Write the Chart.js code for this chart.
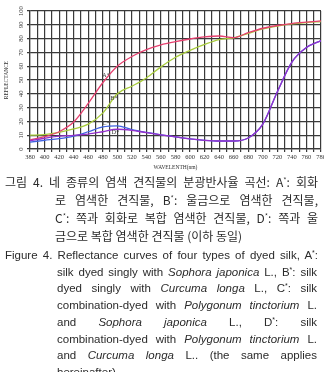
<!DOCTYPE html>
<html>
<head>
<meta charset="utf-8">
<script src="https://cdn.jsdelivr.net/npm/chart.js@4.4.0/dist/chart.umd.min.js"></script>
<style>
  html, body { margin: 0; padding: 0; background: #fff; }
  body { width: 324px; height: 372px; position: relative; overflow: hidden; }
  #wrap { position: absolute; left: 0; top: 0; width: 324px; height: 175px; }
  .ln { position: absolute; height: 16px; line-height: 16px; color: #2b2b2b;
        text-align: justify; text-align-last: justify; }
  .ln.last { text-align: left; text-align-last: left; }
  .ko { font-family: "Noto Sans CJK KR", sans-serif; font-size: 12px; }
  .en { font-family: "Liberation Sans", Arial, sans-serif; font-size: 11.5px; }
  sup { font-size: 0.6em; vertical-align: 0.55em; line-height: 0; }
</style>
</head>
<body>
<div id="wrap"><canvas id="myChart" width="324" height="175"></canvas></div>

<div class="ln ko" style="left:5px;width:313px;top:174px">그림 4. 네 종류의 염색 견직물의 분광반사율 곡선: A<sup>*</sup>: 회화</div>
<div class="ln ko" style="left:55px;width:263px;top:192px">로 염색한 견직물, B<sup>*</sup>: 울금으로 염색한 견직물,</div>
<div class="ln ko" style="left:55px;width:263px;top:210px">C<sup>*</sup>: 쪽과 회화로 복합 염색한 견직물, D<sup>*</sup>: 쪽과 울</div>
<div class="ln ko last" style="left:55px;width:263px;top:228px">금으로 복합 염색한 견직물 (이하 동일)</div>

<div class="ln en" style="left:5px;width:313px;top:247px">Figure 4. Reflectance curves of four types of dyed silk, A<sup>*</sup>:</div>
<div class="ln en" style="left:57px;width:260px;top:263.7px">silk dyed singly with <i>Sophora japonica</i> L., B<sup>*</sup>: silk</div>
<div class="ln en" style="left:57px;width:260px;top:280.4px">dyed singly with <i>Curcuma longa</i> L., C<sup>*</sup>: silk</div>
<div class="ln en" style="left:57px;width:260px;top:297px">combination-dyed with <i>Polygonum tinctorium</i> L.</div>
<div class="ln en" style="left:57px;width:260px;top:313.8px">and <i>Sophora japonica</i> L., D<sup>*</sup>: silk</div>
<div class="ln en" style="left:57px;width:260px;top:330.5px">combination-dyed with <i>Polygonum tinctorium</i> L.</div>
<div class="ln en" style="left:57px;width:260px;top:347.2px">and <i>Curcuma longa</i> L.. (the same applies</div>
<div class="ln en last" style="left:57px;width:260px;top:364px">hereinafter)</div>

<script>
// wavelength (nm) and reflectance (%)
var wavelengths = [380, 400, 420, 440, 460, 480, 500, 520, 540, 560, 580, 600, 620, 640, 660, 680, 700, 720, 740, 760, 780];
var seriesA = [6.5, 9, 12.5, 19.5, 33, 48, 60, 67, 72, 75.5, 77.8, 79.7, 81.2, 81.9, 80.7, 84.3, 87.5, 89.5, 90.9, 91.9, 92.8];
var seriesB = [10, 10.4, 12, 14.5, 18, 26, 40, 45.5, 51.5, 59.5, 66.5, 71.5, 75.8, 79.3, 80.6, 83.8, 87, 89.1, 90.6, 91.6, 92.3];
var seriesC = [5, 6.3, 7.5, 9.4, 12.5, 16, 16.8, 14, 12, 10.3, 8.8, 7.3, 6.3, 5.8, 5.8, 8, 18, 41.5, 63, 73.5, 78.5];
var seriesD = [6, 7.8, 9.3, 9.9, 10.8, 12.5, 14.3, 13.5, 11.8, 10.3, 8.8, 7.3, 6.3, 5.8, 5.8, 8, 18, 41.5, 63, 73.5, 78.5];

var xTickLabels = [380, 400, 420, 440, 460, 480, 500, 520, 540, 560, 580, 600, 620, 640, 660, 680, 700, 720, 740, 760, 780];
var yTickLabels = [0, 10, 20, 30, 40, 50, 60, 70, 80, 90, 100];

// curve names written on the plot, anchored in data units
var curveNames = ['A*', 'B*', 'C*', 'D*'];
var nameAtNm = [484.5, 495.5, 484.5, 497.5];
var nameAtValue = [53.6, 36.7, 18.8, 12.3];

function toPoints(values) {
    return values.map(function (v, i) { return { x: wavelengths[i], y: v }; });
}

var gridColor = '#3a3a3a';

var axisText = {
    id: 'axisText',
    afterDraw: function (chart) {
        var ctx = chart.ctx, x = chart.scales.x, y = chart.scales.y, area = chart.chartArea;
        ctx.save();
        ctx.fillStyle = '#333';
        ctx.textAlign = 'center';
        ctx.textBaseline = 'middle';
        ctx.font = '6.5px "Liberation Serif"';
        xTickLabels.forEach(function (v) {
            ctx.fillText(String(v), x.getPixelForValue(v), area.bottom + 8);
        });
        yTickLabels.forEach(function (v) {
            ctx.save();
            ctx.translate(area.left - 9, y.getPixelForValue(v));
            ctx.rotate(-Math.PI / 2);
            ctx.fillText(String(v), 0, 0);
            ctx.restore();
        });
        ctx.font = '6px "Liberation Serif"';
        curveNames.forEach(function (n, i) {
            ctx.fillText(n, x.getPixelForValue(nameAtNm[i]), y.getPixelForValue(nameAtValue[i]));
        });
        ctx.restore();
    }
};

var ctx = document.getElementById('myChart').getContext('2d');
var chart = new Chart(ctx, {
    type: 'line',
    data: {
        datasets: [
            { label: 'A', data: toPoints(seriesA), borderColor: '#e6406f', order: 2 },
            { label: 'B', data: toPoints(seriesB), borderColor: '#a8cc3c', order: 3 },
            { label: 'C', data: toPoints(seriesC), borderColor: '#3f62e0', order: 1 },
            { label: 'D', data: toPoints(seriesD), borderColor: '#9430cc', order: 0 }
        ]
    },
    options: {
        responsive: false,
        animation: false,
        devicePixelRatio: 1,
        layout: { padding: { top: 11, right: 3, left: 0, bottom: 0 } },
        elements: {
            point: { radius: 0 },
            line: { borderWidth: 1.3, cubicInterpolationMode: 'monotone', fill: false }
        },
        plugins: { legend: { display: false }, tooltip: { enabled: false } },
        scales: {
            x: {
                type: 'linear', min: 380, max: 780,
                ticks: { display: false, stepSize: 10 },
                grid: { color: gridColor, lineWidth: 1.2, tickLength: 3 },
                border: { color: gridColor, width: 1.2 },
                title: {
                    display: true, text: 'WAVELENTH(nm)', color: '#333',
                    font: { family: 'Liberation Serif', size: 5.5 },
                    padding: { top: 0, bottom: 4 }
                },
                afterFit: function (s) { s.height = 26; }
            },
            y: {
                min: 0, max: 100,
                ticks: { display: false, stepSize: 10 },
                grid: { color: gridColor, lineWidth: 1.2, tickLength: 3 },
                border: { color: gridColor, width: 1.2 },
                title: {
                    display: true, text: 'REFLECTANCE', color: '#333',
                    font: { family: 'Liberation Serif', size: 5.5 },
                    padding: { top: 3 }
                },
                afterFit: function (s) { s.width = 30; }
            }
        }
    },
    plugins: [axisText]
});
</script>
</body>
</html>
